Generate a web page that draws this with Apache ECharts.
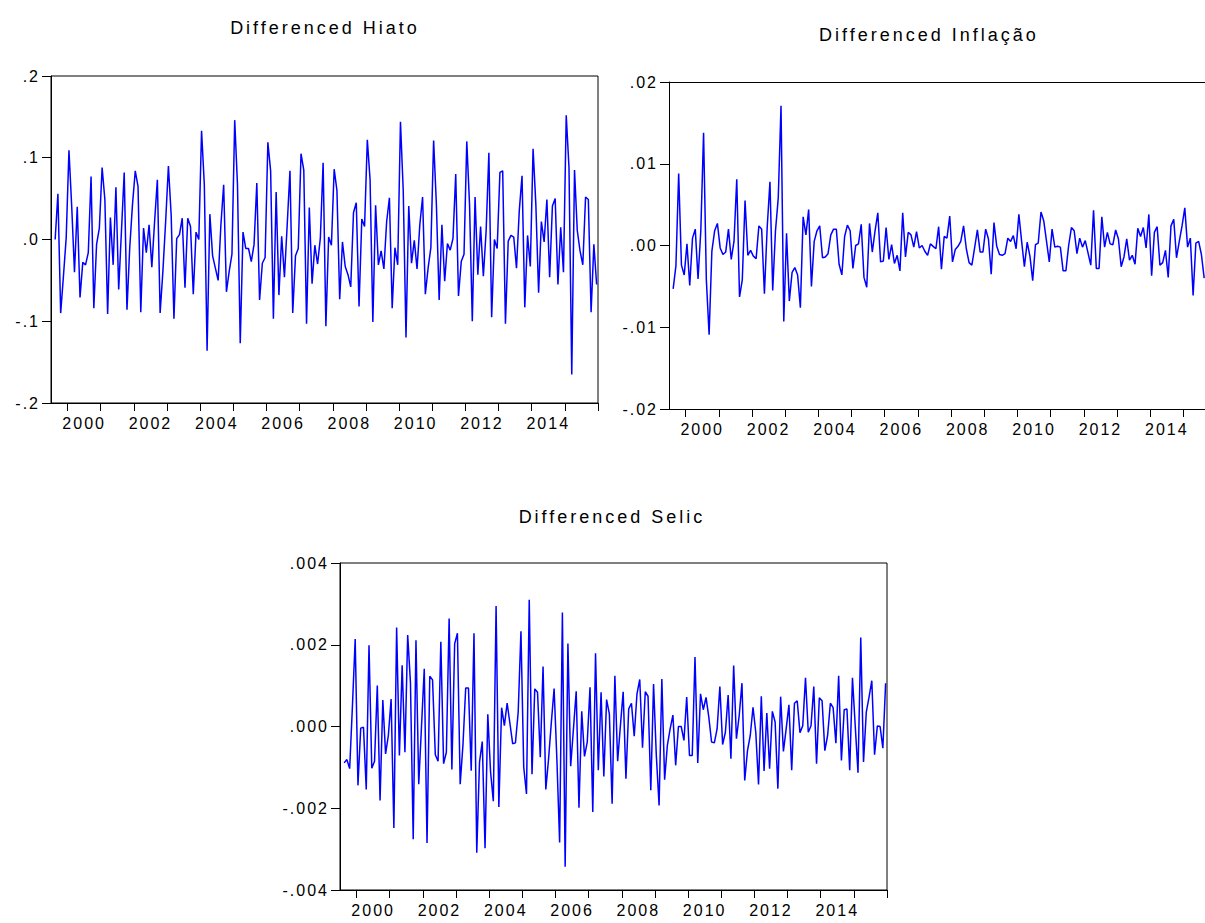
<!DOCTYPE html>
<html>
<head>
<meta charset="utf-8">
<script src="https://cdn.jsdelivr.net/npm/echarts@6/dist/echarts.min.js"></script>
<style>
html,body{margin:0;padding:0;background:#fff;overflow:hidden;}
#chart{width:1205px;height:923px;}
#chart svg text{letter-spacing:2px;}
</style>
</head>
<body>
<div id="chart"></div>
<script>
// Monthly observations start in August 1999
const startYear = 1999;
const startMonth = 8;

const titles = ['Differenced Hiato', 'Differenced Inflação', 'Differenced Selic'];

const hiato = [
 0.0, 0.056, -0.09, -0.045, 0.002, 0.109, 0.04, -0.04, 0.04, -0.071, -0.028, -0.031,
 -0.016, 0.077, -0.084, -0.006, 0.014, 0.088, 0.049, -0.091, 0.027, -0.031, 0.064, -0.061,
 0.01, 0.082, -0.086, -0.01, 0.043, 0.084, 0.065, -0.089, 0.014, -0.016, 0.018, -0.034,
 0.022, 0.073, -0.09, -0.039, 0.022, 0.09, 0.03, -0.097, 0.001, 0.006, 0.026, -0.059,
 0.026, 0.016, -0.067, 0.009, 0.0, 0.133, 0.067, -0.136, 0.031, -0.02, -0.035, -0.05,
 0.018, 0.067, -0.064, -0.039, -0.018, 0.146, 0.067, -0.127, 0.009, -0.011, -0.011, -0.027,
 -0.006, 0.069, -0.074, -0.029, -0.022, 0.119, 0.084, -0.097, 0.058, -0.068, 0.004, -0.046,
 0.018, 0.084, -0.09, -0.02, -0.011, 0.105, 0.085, -0.103, 0.039, -0.054, -0.007, -0.03,
 0.002, 0.094, -0.106, 0.003, -0.007, 0.086, 0.06, -0.073, -0.003, -0.033, -0.043, -0.058,
 0.033, 0.045, -0.082, 0.025, 0.016, 0.122, 0.073, -0.101, 0.042, -0.031, -0.014, -0.036,
 0.022, 0.051, -0.084, -0.01, -0.031, 0.144, 0.06, -0.12, 0.041, -0.029, -0.001, -0.036,
 0.018, 0.052, -0.067, -0.035, -0.01, 0.121, 0.043, -0.074, 0.018, -0.051, -0.005, -0.013,
 0.001, 0.08, -0.069, -0.027, -0.018, 0.12, 0.043, -0.1, 0.052, -0.043, 0.016, -0.045,
 0.01, 0.106, -0.095, 0.0, -0.011, 0.082, 0.084, -0.103, -0.002, 0.005, 0.003, -0.035,
 0.035, 0.078, -0.083, 0.005, -0.033, 0.111, 0.043, -0.065, 0.022, -0.003, 0.049, -0.046,
 0.041, 0.05, -0.055, 0.015, -0.04, 0.152, 0.088, -0.165, 0.085, 0.011, -0.014, -0.031,
 0.052, 0.049, -0.089, -0.006, -0.055
];

const inflacao = [
 -0.0053, -0.0025, 0.0088, -0.0024, -0.0036, 0.0002, -0.0049, 0.0009, 0.002, -0.0041, 0.0018, 0.0138,
 -0.0042, -0.0109, -0.0007, 0.0018, 0.0027, -0.0003, -0.0011, -0.0008, 0.002, -0.0017, 0.0005, 0.0081,
 -0.0063, -0.0042, 0.0055, -0.0012, -0.0006, -0.0013, -0.0016, 0.0024, 0.002, -0.0059, 0.0022, 0.0078,
 -0.0055, 0.0018, 0.0058, 0.0171, -0.0093, 0.0015, -0.0068, -0.0033, -0.0027, -0.0036, -0.0076, 0.0035,
 0.0013, 0.0044, -0.005, 0.0005, 0.0018, 0.0024, -0.0015, -0.0014, -0.001, 0.0013, 0.002, 0.002,
 -0.0023, -0.0036, 0.0011, 0.0025, 0.0018, -0.0028, 0.0, 0.0002, 0.0026, -0.0039, -0.0051, 0.0027,
 -0.0008, 0.0018, 0.004, -0.002, -0.0019, 0.0022, -0.0017, 0.0001, -0.0022, -0.0012, -0.0031, 0.004,
 -0.0014, 0.0016, 0.0013, -0.0002, 0.0017, -0.0003, 0.0, -0.0007, -0.0012, 0.0002, -0.0001, -0.0004,
 0.0023, -0.0029, 0.0011, 0.0009, 0.0036, -0.002, -0.0005, -0.0001, 0.0005, 0.0024, -0.0004, -0.0021,
 -0.0024, -0.0003, 0.0019, -0.0008, -0.0008, 0.002, 0.0008, -0.0035, 0.0028, -0.0001, -0.0011, -0.0012,
 -0.001, 0.0009, 0.0005, 0.0012, -0.0004, 0.0038, 0.0005, -0.0026, 0.0004, -0.0013, -0.0043, 0.0001,
 0.0003, 0.0041, 0.003, 0.0005, -0.002, 0.002, -0.0002, -0.0001, -0.0002, -0.0031, -0.0031, 0.0,
 0.0022, 0.0018, -0.001, 0.0009, -0.0002, 0.0006, -0.0009, -0.0024, 0.0043, -0.0028, -0.0028, 0.0035,
 -0.0002, 0.0016, 0.0002, 0.0001, 0.0019, 0.0008, -0.0026, -0.0014, 0.0008, -0.0018, -0.0012, -0.0023,
 0.0021, 0.0011, 0.0022, -0.0003, 0.0038, -0.0037, 0.0016, 0.0023, -0.0024, -0.0021, -0.0006, -0.0039,
 0.0024, 0.0032, -0.0015, 0.0005, 0.0024, 0.0046, -0.0002, 0.0009, -0.0061, 0.0003, 0.0005, -0.0011,
 -0.004
];

const selic = [
 -0.00089, -0.00081, -0.00103, 0.0005, 0.00214, -0.00144, -0.00004, -0.00002, -0.00154, 0.00199, -0.00102, -0.00085,
 0.001, -0.00181, 0.00065, -0.00067, -0.00022, 0.00067, -0.00248, 0.00242, -0.00071, 0.0015, -0.00063, 0.00224,
 0.00108, -0.00276, 0.00211, -0.00141, 0.0, 0.00141, -0.00285, 0.00123, 0.00114, -0.00069, -0.00085, 0.00207,
 -0.00091, -0.00063, 0.00264, -0.00105, 0.00202, 0.00228, -0.00141, -0.00046, 0.00094, 0.00094, -0.00108, 0.00228,
 -0.00309, -0.00087, -0.00037, -0.00298, 0.0003, -0.00111, -0.00183, 0.00295, -0.00197, 0.00046, 0.00002, 0.00057,
 0.00008, -0.00042, -0.0004, 0.00035, 0.00233, -0.00099, -0.00165, 0.0031, -0.00117, 0.00092, 0.00084, -0.00075,
 0.00147, -0.00154, -0.00079, 0.0001, 0.00093, -0.00079, -0.00284, 0.00279, -0.00343, 0.00203, -0.00097, -0.00006,
 0.00086, -0.00199, 0.00037, -0.00073, -0.00038, 0.00096, -0.00209, 0.00179, -0.00107, 0.00084, -0.00122, 0.00066,
 0.00031, -0.00189, 0.00124, -0.00085, 0.00002, 0.00085, -0.00128, 0.00043, 0.00057, -0.00024, 0.0008, 0.00115,
 -0.00052, 0.00085, 0.00074, -0.00156, 0.00104, -0.00071, -0.00193, 0.00116, -0.0013, -0.00046, -0.00006, 0.00028,
 -0.00095, 0.0, 0.0, -0.00034, 0.00072, -0.00071, -0.00071, 0.0017, -0.00089, 0.0008, 0.00041, 0.00071,
 0.00023, -0.00038, -0.0004, -0.00006, 0.00098, -0.00044, -0.00014, 0.00077, -0.00079, 0.00149, -0.0003, 0.00027,
 0.00106, -0.00132, -0.00059, -0.00022, 0.00047, -0.00014, -0.00142, 0.00074, -0.00109, 0.00033, -0.00103, 0.00037,
 0.00011, -0.00152, 0.00073, -0.00061, -0.00006, 0.00053, -0.00107, 0.00057, 0.00063, -0.00015, 0.00002, 0.00119,
 -0.00014, 0.00002, 0.00098, -0.00091, 0.0007, 0.00063, -0.00059, -0.00022, 0.00057, 0.00046, -0.00041, 0.00124,
 -0.00083, 0.00041, 0.00043, -0.00107, 0.00119, 0.00002, -0.00113, 0.00218, -0.00087, 0.00035, 0.00072, 0.00112,
 -0.00069, 0.00001, 0.0, -0.00053, 0.00106
];

const yearTicks = [2000,2001,2002,2003,2004,2005,2006,2007,2008,2009,2010,2011,2012,2013,2014,2015,2016];
const yearLabels = [2000,2002,2004,2006,2008,2010,2012,2014];

// y-axis ranges (min, max, interval)
const yRanges = [[-0.2, 0.2, 0.1], [-0.02, 0.02, 0.01], [-0.004, 0.004, 0.002]];
const yDecimals = [1, 2, 3];
// x-axis ranges (panel 2 is cut at the picture's right edge)
const xRanges = [[1999.5, 2016], [1999.5, 2015.65], [1999.5, 2016]];

function toPairs(arr) {
  return arr.map((v, i) => [startYear + (startMonth - 1 + i + 0.5) / 12, v]);
}

const FONT = "'Liberation Sans', Arial, sans-serif";
const grids = [
  {left: 51, top: 76, width: 547, height: 327, show: true},
  {left: 669, top: 82, width: 536, height: 327, show: false},
  {left: 340, top: 563, width: 547, height: 327, show: true}
];
const titlePos = [[320, 14], [924, 21], [607, 503]];

const chart = echarts.init(document.getElementById('chart'), null, {renderer: 'svg'});

const xAxes = grids.map((g, k) => ({
  type: 'value',
  gridIndex: k,
  min: xRanges[k][0],
  max: xRanges[k][1],
  axisLine: {show: true, onZero: false, lineStyle: {color: '#000', width: 1}},
  axisTick: {show: true, inside: false, length: 8, customValues: yearTicks, lineStyle: {color: '#000'}},
  axisLabel: {
    show: true, customValues: yearLabels.map(y => y + 0.5), margin: 12,
    formatter: v => String(Math.floor(v)),
    fontFamily: FONT, fontSize: 16, color: '#000'
  },
  splitLine: {show: false}
}));
// top frame line for the cut-off panel 2
xAxes.push({
  type: 'value', gridIndex: 1, position: 'top',
  min: xRanges[1][0], max: xRanges[1][1],
  axisLine: {show: true, onZero: false, lineStyle: {color: '#000', width: 1}},
  axisTick: {show: false}, axisLabel: {show: false}, splitLine: {show: false}
});

const option = {
  animation: false,
  backgroundColor: '#ffffff',
  title: titles.map((t, k) => ({
    text: t,
    left: titlePos[k][0],
    top: titlePos[k][1],
    textAlign: 'center',
    textStyle: {fontFamily: FONT, fontSize: 18, fontWeight: 'normal', color: '#000'}
  })),
  grid: grids.map(g => Object.assign({borderColor: '#000', borderWidth: 1, backgroundColor: 'transparent', containLabel: false}, g)),
  xAxis: xAxes,
  yAxis: grids.map((g, k) => ({
    type: 'value',
    gridIndex: k,
    min: yRanges[k][0],
    max: yRanges[k][1],
    interval: yRanges[k][2],
    axisLine: {show: true, onZero: false, lineStyle: {color: '#000', width: 1}},
    axisTick: {show: true, inside: false, length: 9, lineStyle: {color: '#000'}},
    axisLabel: {
      margin: 11,
      formatter: v => Number(v).toFixed(yDecimals[k]).replace(/^(-?)0\./, '$1.'),
      fontFamily: FONT, fontSize: 16, color: '#000'
    },
    splitLine: {show: false}
  })),
  series: [hiato, inflacao, selic].map((arr, k) => ({
    type: 'line',
    xAxisIndex: k,
    yAxisIndex: k,
    data: toPairs(arr),
    showSymbol: false,
    symbol: 'none',
    lineStyle: {color: '#0000ff', width: 1.5},
    clip: true
  }))
};

function applySpacing() {
  document.querySelectorAll('#chart svg text').forEach(t => {
    if (t.textContent.indexOf('Differenced') === 0) t.style.letterSpacing = '3px';
  });
}
chart.on('finished', applySpacing);
chart.setOption(option);
applySpacing();
setTimeout(applySpacing, 0);
</script>
</body>
</html>
